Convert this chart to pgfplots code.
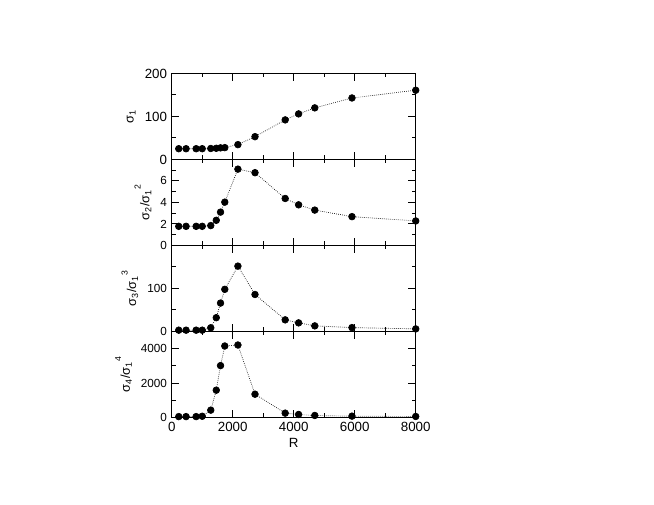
\documentclass[border=0pt]{standalone}
\usepackage{fontspec}
\setmainfont{Liberation Sans}
\usepackage{pgfplots}
\usepackage{pgfplotstable}
\pgfplotsset{compat=1.18}
\pgfplotstableread{
x s1 r2 r3 r4
230 25 1.78 3 50
470 25 1.78 3 50
800 25 1.78 3 50
1000 25 1.78 3 70
1280 25.5 1.85 8.6 425
1460 26 2.34 32 1585
1600 27 3.1 66 3015
1740 27.5 4.03 98 4155
2170 34.5 7.1 152 4213
2730 53 6.77 86 1353
3720 92 4.37 27 251
4160 106 3.78 20 174
4690 120 3.29 13 116
5910 143 2.68 9 77
8000 161 2.28 6 58
}\data
\newcommand{\sq}[1]{\raisebox{6.5pt}{\fontsize{6.5}{6.5}\selectfont #1}}
\pgfplotsset{
 panel/.style={scale only axis, width=183pt, height=64.5pt,
   xmin=0, xmax=8000, xtick={0,2000,4000,6000,8000},
   minor x tick num=1, minor y tick num=1, tick align=inside,
   major tick length=5.5pt, minor tick length=3pt,
   axis line style={line width=0.7pt},
   every tick/.style={black, line width=0.7pt},
   yticklabel style={font=\fontsize{8.8}{10}\selectfont},
   xticklabel style={font=\fontsize{10}{12}\selectfont},
   label style={font=\fontsize{9.6}{11}\selectfont},
   /pgf/number format/assume math mode=true,
   /pgf/number format/1000 sep={},
   scaled ticks=false, anchor=south west},
 dat/.style={black, densely dotted, line width=0.5pt, mark=*, mark size=2.5pt, mark options={solid, fill=black}}
}
\begin{document}
\begin{tikzpicture}
\path (0,0) rectangle (490.5pt,-378.75pt);
\begin{axis}[panel, at={(128.8pt,-119.6pt)}, ymin=0, ymax=200, ytick={0,100,200}, xticklabels={},
  yticklabel style={font=\fontsize{10}{12}\selectfont},
  ylabel={σ\textsubscript{1}}]
\addplot[dat] table[x=x,y=s1]{\data};
\end{axis}
\begin{axis}[panel, at={(128.8pt,-184.1pt)}, ymin=0, ymax=8, ytick={0,2,4,6,8}, yticklabels={0,2,4,6,}, xticklabels={},
  ylabel={σ\textsubscript{2}/σ\textsubscript{1}\sq{2}}]
\addplot[dat] table[x=x,y=r2]{\data};
\end{axis}
\begin{axis}[panel, at={(128.8pt,-248.6pt)}, ymin=0, ymax=200, ytick={0,100,200}, yticklabels={0,100,}, xticklabels={},
  ylabel={σ\textsubscript{3}/σ\textsubscript{1}\sq{3}}]
\addplot[dat] table[x=x,y=r3]{\data};
\end{axis}
\begin{axis}[panel, at={(128.8pt,-313.1pt)}, ymin=0, ymax=5000, ytick={0,2000,4000},
  ylabel={σ\textsubscript{4}/σ\textsubscript{1}\sq{4}}, xlabel={R}, xlabel style={yshift=2pt, font=\fontsize{10}{12}\selectfont}]
\addplot[dat] table[x=x,y=r4]{\data};
\end{axis}
\end{tikzpicture}
\end{document}
